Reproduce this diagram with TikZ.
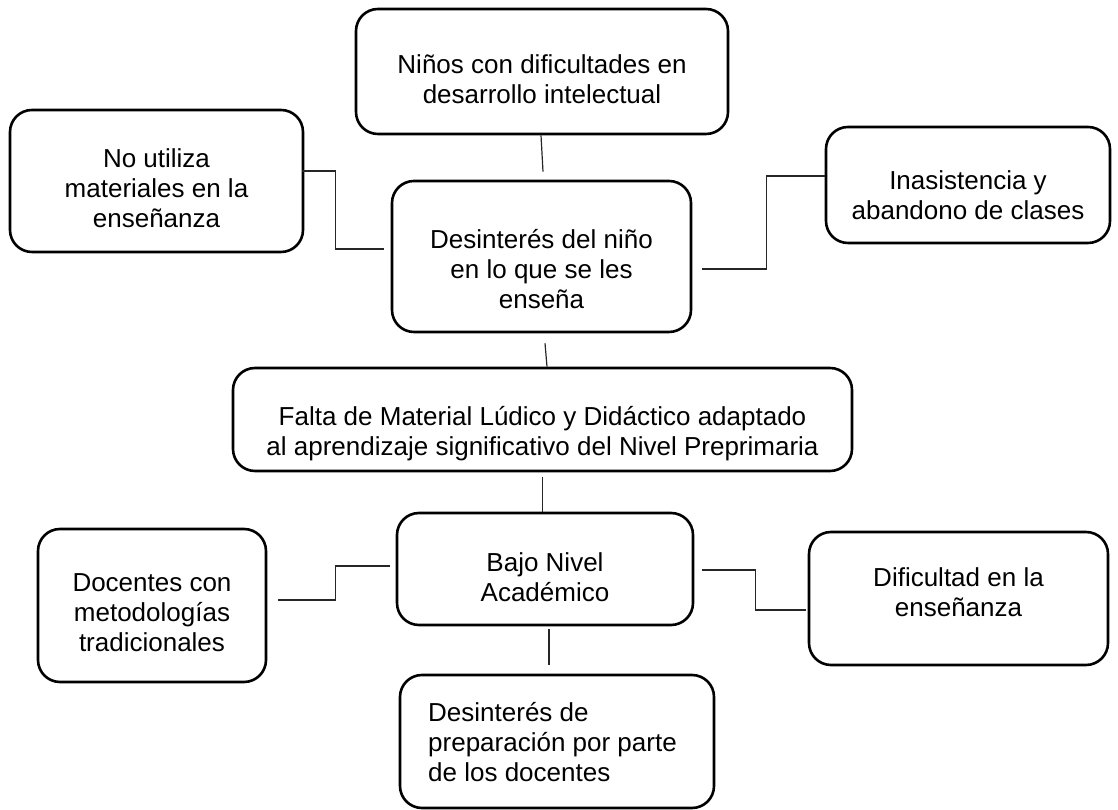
\documentclass[tikz,border=0pt]{standalone}
\usepackage{fontspec}
\setmainfont{Liberation Sans}
\newcommand\mystr{\rule{0pt}{22pt}}
\begin{document}
\begin{tikzpicture}[x=1pt,y=1pt,
  box/.style={draw=black,line width=2.6pt,rounded corners=22pt,inner sep=0pt},
  txt/.style={inner sep=0pt,align=center,anchor=north,font=\fontsize{26pt}{30pt}\selectfont},
  conn/.style={draw=black!85,line width=1.2pt}]
\useasboundingbox (0,0) rectangle (1118,810);
% boxes
\node[box,minimum width=372pt,minimum height=125pt] (top) at (542,738.5) {};
\node[box,minimum width=293pt,minimum height=142pt] (left) at (156.5,629) {};
\node[box,minimum width=299pt,minimum height=151pt] (ctr) at (541.5,553.5) {};
\node[box,minimum width=284pt,minimum height=116pt] (right) at (968,625) {};
\node[box,minimum width=619pt,minimum height=103pt] (mid) at (542.5,390.5) {};
\node[box,minimum width=296pt,minimum height=112pt] (bajo) at (545,241) {};
\node[box,minimum width=228pt,minimum height=153pt] (doc) at (152,204.5) {};
\node[box,minimum width=299pt,minimum height=133pt] (dif) at (958.5,211.5) {};
\node[box,minimum width=314pt,minimum height=133pt] (bot) at (557,68.5) {};
% texts
\node[txt] (ttop) at (542,759) {\mystr Niños con dificultades en\\desarrollo intelectual};
\node[txt] (tleft) at (156.5,665) {\mystr No utiliza\\materiales en la\\enseñanza};
\node[txt] (tctr) at (541.5,584) {\mystr Desinterés del niño\\en lo que se les\\enseña};
\node[txt] (tright) at (968,643) {\mystr Inasistencia y\\abandono de clases};
\node[txt] (tmid) at (542.5,407) {\mystr Falta de Material Lúdico y Didáctico adaptado\\al aprendizaje significativo del Nivel Preprimaria};
\node[txt] (tbajo) at (545,261) {\mystr Bajo Nivel\\Académico};
\node[txt] (tdoc) at (152,241) {\mystr Docentes con\\metodologías\\tradicionales};
\node[txt] (tdif) at (958.5,246) {\mystr Dificultad en la\\enseñanza};
\node[txt,anchor=north west,align=left] (tbot) at (428,111) {\mystr Desinterés de\\preparación por parte\\de los docentes};
% connectors
\draw[conn] ([xshift=-1pt]top.south) -- ([xshift=1.5pt,yshift=8pt]ctr.north);
\draw[conn] ([xshift=-2pt,yshift=10pt]left.east) -- ++(33,0) |- ([xshift=-7pt,yshift=7.5pt]ctr.west);
\draw[conn] ([xshift=10pt,yshift=-12.5pt]ctr.east) -- ++(64,0) |- ([yshift=9pt]right.west);
\draw[conn] ([xshift=3.5pt,yshift=-10pt]ctr.south) -- ([xshift=4.5pt]mid.north);
\draw[conn] ([yshift=-5pt]mid.south) -- (mid.south |- bajo.north);
\draw[conn] ([xshift=11pt,yshift=5.5pt]doc.east) -- ++(57,0) |- ([xshift=-6pt,yshift=3pt]bajo.west);
\draw[conn] ([xshift=8pt,yshift=-1pt]bajo.east) -- ++(53,0) |- ([xshift=-2pt,yshift=-11.5pt]dif.west);
\draw[conn] ([xshift=4pt,yshift=-3pt]bajo.south) -- ([xshift=-8pt,yshift=9pt]bot.north);
\end{tikzpicture}
\end{document}
